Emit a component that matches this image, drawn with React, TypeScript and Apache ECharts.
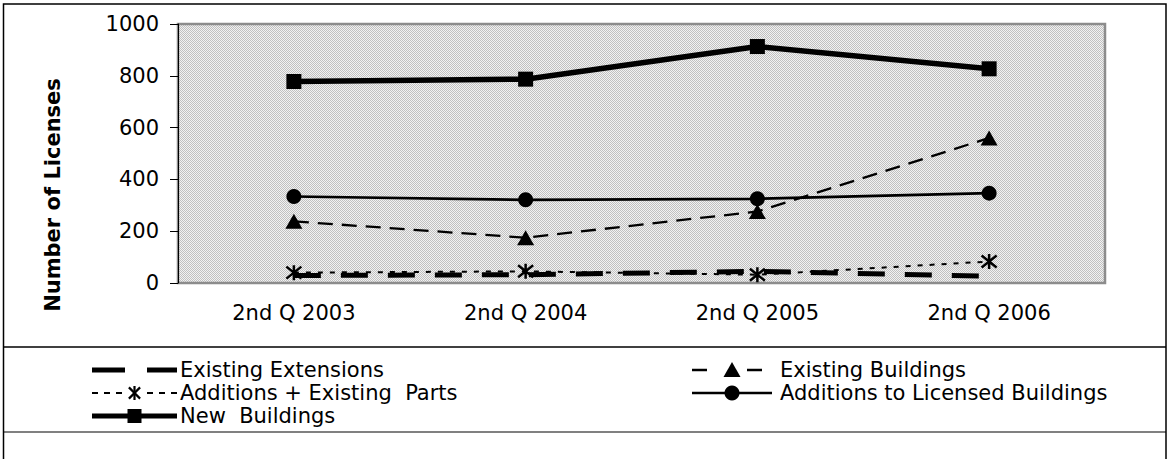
import React, { useEffect, useRef } from "react";
import * as echarts from "echarts";

const categories = ["2nd Q 2003", "2nd Q 2004", "2nd Q 2005", "2nd Q 2006"];
const existingExtensions = [29, 32, 45, 26];
const existingBuildings = [238, 175, 276, 560];
const additionsExistingParts = [40, 45, 32, 83];
const additionsLicensed = [334, 321, 325, 347];
const newBuildings = [778, 787, 913, 827];
const yMin = 0;
const yMax = 1000;
const yStep = 200;
const legendLeft = ["Existing Extensions", "Additions + Existing  Parts", "New  Buildings"];
const legendRight = ["Existing Buildings", "Additions to Licensed Buildings"];
const yTitle = "Number of Licenses";

const FONT = "DejaVu Sans";
const ASTERISK = "path://M6,0L6,12M1,1.2L11,10.8M1,10.8L11,1.2";

function makePattern() {
  const c = document.createElement("canvas");
  c.width = 2;
  c.height = 2;
  const ctx = c.getContext("2d");
  if (!ctx) return "#dadada";
  ctx.fillStyle = "#f2f2f2";
  ctx.fillRect(0, 0, 2, 2);
  ctx.fillStyle = "#c0c0c0";
  ctx.fillRect(0, 0, 1, 1);
  ctx.fillRect(1, 1, 1, 1);
  return { image: c, repeat: "repeat" };
}

function asterisk(cx: number, cy: number, s: number) {
  const h = s / 2;
  const st = { stroke: "#000", lineWidth: 2.2 };
  return {
    type: "group",
    silent: true,
    children: [
      { type: "line", shape: { x1: cx, y1: cy - h, x2: cx, y2: cy + h }, style: st },
      { type: "line", shape: { x1: cx - h * 0.8, y1: cy - h * 0.8, x2: cx + h * 0.8, y2: cy + h * 0.8 }, style: st },
      { type: "line", shape: { x1: cx - h * 0.8, y1: cy + h * 0.8, x2: cx + h * 0.8, y2: cy - h * 0.8 }, style: st },
    ],
  };
}

export default function App() {
  const ref = useRef<HTMLDivElement>(null);
  useEffect(() => {
    if (!ref.current) return;
    const chart = echarts.init(ref.current, null, { renderer: "svg" });
    const txt = (x: number, y: number, s: string) => ({
      type: "text",
      x,
      y,
      silent: true,
      style: { text: s, fontFamily: FONT, fontSize: 21, fill: "#000", align: "left", verticalAlign: "middle" },
    });
    const ln = (x1: number, x2: number, y: number, w: number, dash?: number[]) => ({
      type: "line",
      silent: true,
      shape: { x1, y1: y, x2, y2: y },
      style: { stroke: "#000", lineWidth: w, lineDash: dash },
    });
    const r1 = 370, r2 = 393, r3 = 416;
    const lx1 = 92, lx2 = 177, lc = 134.5, ltx = 180;
    const rx1 = 692, rx2 = 772, rc = 732, rtx = 780;
    chart.setOption({
      animation: false,
      backgroundColor: "#fff",
      grid: {
        left: 178,
        top: 24,
        width: 927,
        height: 259,
        show: true,
        backgroundColor: makePattern(),
        borderColor: "#8c8c8c",
        borderWidth: 2.5,
      },
      xAxis: {
        type: "category",
        data: categories,
        boundaryGap: true,
        axisLine: { show: false },
        axisTick: { show: false },
        axisLabel: { fontFamily: FONT, fontSize: 21, color: "#000", margin: 19 },
      },
      yAxis: {
        type: "value",
        min: yMin,
        max: yMax,
        interval: yStep,
        axisLine: { show: true, lineStyle: { color: "#000", width: 1 } },
        axisTick: { show: true, length: 8, lineStyle: { color: "#000" } },
        splitLine: { show: false },
        axisLabel: {
          fontFamily: FONT,
          fontSize: 21,
          color: "#000",
          margin: 19,
          formatter: (v: number) => String(v),
        },
      },
      graphic: [
        {
          type: "rect",
          shape: { x: 3.5, y: 4, width: 1162.5, height: 470 },
          style: { fill: "none", stroke: "#000", lineWidth: 1.5 },
          silent: true,
          z: 100,
        },
        {
          type: "line",
          shape: { x1: 4, y1: 347, x2: 1166, y2: 347 },
          style: { stroke: "#000", lineWidth: 1.5 },
          silent: true,
        },
        {
          type: "line",
          shape: { x1: 4, y1: 432, x2: 1166, y2: 432 },
          style: { stroke: "#808080", lineWidth: 2 },
          silent: true,
        },
        {
          type: "text",
          x: 53,
          y: 195,
          rotation: Math.PI / 2,
          silent: true,
          style: {
            text: yTitle,
            fontFamily: FONT,
            fontSize: 21,
            fontWeight: "bold",
            fill: "#000",
            align: "center",
            verticalAlign: "middle",
          },
        },
        // legend, left column
        ln(lx1, lx1 + 33, r1, 5),
        ln(lx2 - 30, lx2, r1, 5),
        txt(ltx, r1, legendLeft[0]),
        ln(lx1, lx1 + 30, r2, 2, [6, 6]),
        ln(lx2 - 30, lx2, r2, 2, [6, 6]),
        asterisk(lc, r2, 14),
        txt(ltx, r2, legendLeft[1]),
        ln(lx1, lx2, r3, 5),
        { type: "rect", silent: true, shape: { x: lc - 7, y: r3 - 7, width: 14, height: 14 }, style: { fill: "#000" } },
        txt(ltx, r3, legendLeft[2]),
        // legend, right column
        ln(rx1, rx1 + 15, r1, 2.5),
        ln(rx1 + 55, rx1 + 70, r1, 2.5),
        {
          type: "polygon",
          silent: true,
          shape: { points: [[rc, r1 - 8], [rc + 8.5, r1 + 7], [rc - 8.5, r1 + 7]] },
          style: { fill: "#000" },
        },
        txt(rtx, r1, legendRight[0]),
        ln(rx1, rx2, r2, 2.5),
        { type: "circle", silent: true, shape: { cx: rc, cy: r2, r: 7.5 }, style: { fill: "#000" } },
        txt(rtx, r2, legendRight[1]),
      ],
      series: [
        {
          name: legendLeft[0],
          type: "line",
          data: existingExtensions,
          symbol: "none",
          lineStyle: { color: "#000", width: 5, type: [27, 20] },
          itemStyle: { color: "#000" },
          z: 2,
        },
        {
          name: legendRight[0],
          type: "line",
          data: existingBuildings,
          symbol: "triangle",
          symbolSize: [17, 15],
          lineStyle: { color: "#000", width: 2.3, type: [15, 9] },
          itemStyle: { color: "#000" },
          z: 3,
        },
        {
          name: legendLeft[1],
          type: "line",
          data: additionsExistingParts,
          symbol: ASTERISK,
          symbolSize: 15,
          lineStyle: { color: "#000", width: 2, type: [5, 7] },
          itemStyle: { color: "transparent", borderColor: "#000", borderWidth: 2.5 },
          z: 4,
        },
        {
          name: legendRight[1],
          type: "line",
          data: additionsLicensed,
          symbol: "circle",
          symbolSize: 15,
          lineStyle: { color: "#000", width: 2.7 },
          itemStyle: { color: "#000" },
          z: 5,
        },
        {
          name: legendLeft[2],
          type: "line",
          data: newBuildings,
          symbol: "rect",
          symbolSize: 15,
          lineStyle: { color: "#000", width: 5.5 },
          itemStyle: { color: "#000" },
          z: 6,
        },
      ],
    });
    return () => chart.dispose();
  }, []);
  return (
    <div
      ref={ref}
      style={{ position: "fixed", left: 0, top: 0, width: 1168, height: 459 }}
    />
  );
}
